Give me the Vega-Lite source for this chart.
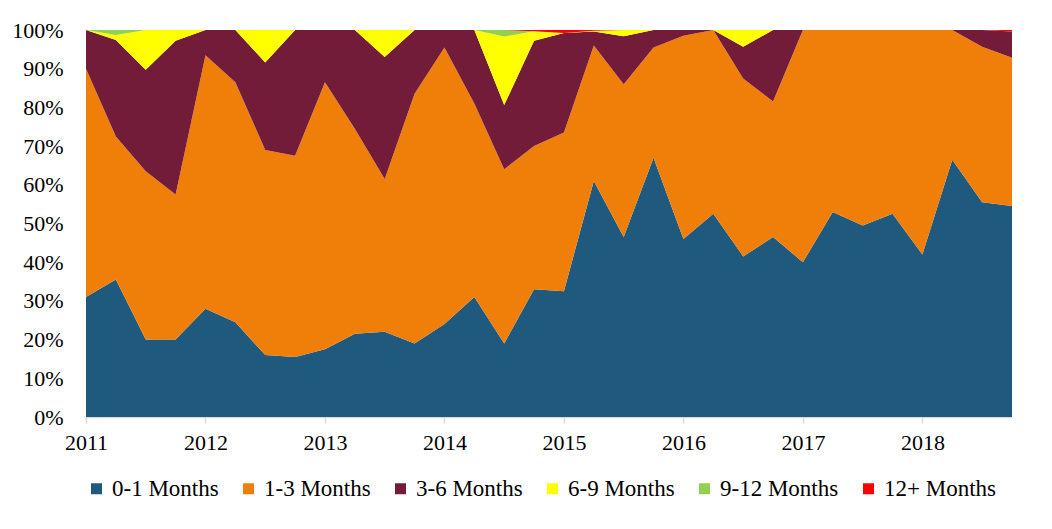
{
"$schema": "https://vega.github.io/schema/vega-lite/v6.json",
"width": 926, "height": 387,
"autosize": {"type": "none"},
"padding": {"left": 86, "top": 30, "right": 40, "bottom": 112},
"background": "white",
"config": {"view": {"stroke": null}, "font": "Liberation Serif"},
"data": {"values": [
{"t":2011,"s":"0-1 Months","k":0,"v":31},{"t":2011.25,"s":"0-1 Months","k":0,"v":35.5},{"t":2011.5,"s":"0-1 Months","k":0,"v":20},{"t":2011.75,"s":"0-1 Months","k":0,"v":20},
{"t":2012,"s":"0-1 Months","k":0,"v":28},{"t":2012.25,"s":"0-1 Months","k":0,"v":24.5},{"t":2012.5,"s":"0-1 Months","k":0,"v":16},{"t":2012.75,"s":"0-1 Months","k":0,"v":15.5},
{"t":2013,"s":"0-1 Months","k":0,"v":17.5},{"t":2013.25,"s":"0-1 Months","k":0,"v":21.5},{"t":2013.5,"s":"0-1 Months","k":0,"v":22},{"t":2013.75,"s":"0-1 Months","k":0,"v":19},
{"t":2014,"s":"0-1 Months","k":0,"v":24},{"t":2014.25,"s":"0-1 Months","k":0,"v":31},{"t":2014.5,"s":"0-1 Months","k":0,"v":19},{"t":2014.75,"s":"0-1 Months","k":0,"v":33},
{"t":2015,"s":"0-1 Months","k":0,"v":32.5},{"t":2015.25,"s":"0-1 Months","k":0,"v":61},{"t":2015.5,"s":"0-1 Months","k":0,"v":46.5},{"t":2015.75,"s":"0-1 Months","k":0,"v":67},
{"t":2016,"s":"0-1 Months","k":0,"v":46},{"t":2016.25,"s":"0-1 Months","k":0,"v":52.5},{"t":2016.5,"s":"0-1 Months","k":0,"v":41.5},{"t":2016.75,"s":"0-1 Months","k":0,"v":46.5},
{"t":2017,"s":"0-1 Months","k":0,"v":40},{"t":2017.25,"s":"0-1 Months","k":0,"v":53},{"t":2017.5,"s":"0-1 Months","k":0,"v":49.5},{"t":2017.75,"s":"0-1 Months","k":0,"v":52.5},
{"t":2018,"s":"0-1 Months","k":0,"v":42},{"t":2018.25,"s":"0-1 Months","k":0,"v":66.5},{"t":2018.5,"s":"0-1 Months","k":0,"v":55.5},{"t":2018.75,"s":"0-1 Months","k":0,"v":54.5},
{"t":2011,"s":"1-3 Months","k":1,"v":59},{"t":2011.25,"s":"1-3 Months","k":1,"v":37},{"t":2011.5,"s":"1-3 Months","k":1,"v":43.5},{"t":2011.75,"s":"1-3 Months","k":1,"v":37.5},
{"t":2012,"s":"1-3 Months","k":1,"v":65.5},{"t":2012.25,"s":"1-3 Months","k":1,"v":62},{"t":2012.5,"s":"1-3 Months","k":1,"v":53},{"t":2012.75,"s":"1-3 Months","k":1,"v":52},
{"t":2013,"s":"1-3 Months","k":1,"v":69},{"t":2013.25,"s":"1-3 Months","k":1,"v":53},{"t":2013.5,"s":"1-3 Months","k":1,"v":39.5},{"t":2013.75,"s":"1-3 Months","k":1,"v":64.5},
{"t":2014,"s":"1-3 Months","k":1,"v":71.5},{"t":2014.25,"s":"1-3 Months","k":1,"v":50},{"t":2014.5,"s":"1-3 Months","k":1,"v":45},{"t":2014.75,"s":"1-3 Months","k":1,"v":37},
{"t":2015,"s":"1-3 Months","k":1,"v":41},{"t":2015.25,"s":"1-3 Months","k":1,"v":35},{"t":2015.5,"s":"1-3 Months","k":1,"v":39.5},{"t":2015.75,"s":"1-3 Months","k":1,"v":28.5},
{"t":2016,"s":"1-3 Months","k":1,"v":52.5},{"t":2016.25,"s":"1-3 Months","k":1,"v":47.5},{"t":2016.5,"s":"1-3 Months","k":1,"v":46},{"t":2016.75,"s":"1-3 Months","k":1,"v":35},
{"t":2017,"s":"1-3 Months","k":1,"v":60},{"t":2017.25,"s":"1-3 Months","k":1,"v":47},{"t":2017.5,"s":"1-3 Months","k":1,"v":50.5},{"t":2017.75,"s":"1-3 Months","k":1,"v":47.5},
{"t":2018,"s":"1-3 Months","k":1,"v":58},{"t":2018.25,"s":"1-3 Months","k":1,"v":33.5},{"t":2018.5,"s":"1-3 Months","k":1,"v":40.2},{"t":2018.75,"s":"1-3 Months","k":1,"v":38.3},
{"t":2011,"s":"3-6 Months","k":2,"v":10},{"t":2011.25,"s":"3-6 Months","k":2,"v":24.9},{"t":2011.5,"s":"3-6 Months","k":2,"v":26.2},{"t":2011.75,"s":"3-6 Months","k":2,"v":39.7},
{"t":2012,"s":"3-6 Months","k":2,"v":6.5},{"t":2012.25,"s":"3-6 Months","k":2,"v":13.5},{"t":2012.5,"s":"3-6 Months","k":2,"v":22.6},{"t":2012.75,"s":"3-6 Months","k":2,"v":32.5},
{"t":2013,"s":"3-6 Months","k":2,"v":13.5},{"t":2013.25,"s":"3-6 Months","k":2,"v":25.5},{"t":2013.5,"s":"3-6 Months","k":2,"v":31.5},{"t":2013.75,"s":"3-6 Months","k":2,"v":16.5},
{"t":2014,"s":"3-6 Months","k":2,"v":4.5},{"t":2014.25,"s":"3-6 Months","k":2,"v":19},{"t":2014.5,"s":"3-6 Months","k":2,"v":16.6},{"t":2014.75,"s":"3-6 Months","k":2,"v":27.2},
{"t":2015,"s":"3-6 Months","k":2,"v":25.7},{"t":2015.25,"s":"3-6 Months","k":2,"v":3.6},{"t":2015.5,"s":"3-6 Months","k":2,"v":12.4},{"t":2015.75,"s":"3-6 Months","k":2,"v":4.5},
{"t":2016,"s":"3-6 Months","k":2,"v":1.5},{"t":2016.25,"s":"3-6 Months","k":2,"v":0},{"t":2016.5,"s":"3-6 Months","k":2,"v":8.2},{"t":2016.75,"s":"3-6 Months","k":2,"v":18.5},
{"t":2017,"s":"3-6 Months","k":2,"v":0},{"t":2017.25,"s":"3-6 Months","k":2,"v":0},{"t":2017.5,"s":"3-6 Months","k":2,"v":0},{"t":2017.75,"s":"3-6 Months","k":2,"v":0},
{"t":2018,"s":"3-6 Months","k":2,"v":0},{"t":2018.25,"s":"3-6 Months","k":2,"v":0},{"t":2018.5,"s":"3-6 Months","k":2,"v":4.3},{"t":2018.75,"s":"3-6 Months","k":2,"v":6.8},
{"t":2011,"s":"6-9 Months","k":3,"v":0},{"t":2011.25,"s":"6-9 Months","k":3,"v":1.3},{"t":2011.5,"s":"6-9 Months","k":3,"v":10.3},{"t":2011.75,"s":"6-9 Months","k":3,"v":2.8},
{"t":2012,"s":"6-9 Months","k":3,"v":0},{"t":2012.25,"s":"6-9 Months","k":3,"v":0},{"t":2012.5,"s":"6-9 Months","k":3,"v":8.4},{"t":2012.75,"s":"6-9 Months","k":3,"v":0},
{"t":2013,"s":"6-9 Months","k":3,"v":0},{"t":2013.25,"s":"6-9 Months","k":3,"v":0},{"t":2013.5,"s":"6-9 Months","k":3,"v":7},{"t":2013.75,"s":"6-9 Months","k":3,"v":0},
{"t":2014,"s":"6-9 Months","k":3,"v":0},{"t":2014.25,"s":"6-9 Months","k":3,"v":0},{"t":2014.5,"s":"6-9 Months","k":3,"v":17.7},{"t":2014.75,"s":"6-9 Months","k":3,"v":2.5},
{"t":2015,"s":"6-9 Months","k":3,"v":0},{"t":2015.25,"s":"6-9 Months","k":3,"v":0.2},{"t":2015.5,"s":"6-9 Months","k":3,"v":1.6},{"t":2015.75,"s":"6-9 Months","k":3,"v":0},
{"t":2016,"s":"6-9 Months","k":3,"v":0},{"t":2016.25,"s":"6-9 Months","k":3,"v":0},{"t":2016.5,"s":"6-9 Months","k":3,"v":4.3},{"t":2016.75,"s":"6-9 Months","k":3,"v":0},
{"t":2017,"s":"6-9 Months","k":3,"v":0},{"t":2017.25,"s":"6-9 Months","k":3,"v":0},{"t":2017.5,"s":"6-9 Months","k":3,"v":0},{"t":2017.75,"s":"6-9 Months","k":3,"v":0},
{"t":2018,"s":"6-9 Months","k":3,"v":0},{"t":2018.25,"s":"6-9 Months","k":3,"v":0},{"t":2018.5,"s":"6-9 Months","k":3,"v":0},{"t":2018.75,"s":"6-9 Months","k":3,"v":0},
{"t":2011,"s":"9-12 Months","k":4,"v":0},{"t":2011.25,"s":"9-12 Months","k":4,"v":1.3},{"t":2011.5,"s":"9-12 Months","k":4,"v":0},{"t":2011.75,"s":"9-12 Months","k":4,"v":0},
{"t":2012,"s":"9-12 Months","k":4,"v":0},{"t":2012.25,"s":"9-12 Months","k":4,"v":0},{"t":2012.5,"s":"9-12 Months","k":4,"v":0},{"t":2012.75,"s":"9-12 Months","k":4,"v":0},
{"t":2013,"s":"9-12 Months","k":4,"v":0},{"t":2013.25,"s":"9-12 Months","k":4,"v":0},{"t":2013.5,"s":"9-12 Months","k":4,"v":0},{"t":2013.75,"s":"9-12 Months","k":4,"v":0},
{"t":2014,"s":"9-12 Months","k":4,"v":0},{"t":2014.25,"s":"9-12 Months","k":4,"v":0},{"t":2014.5,"s":"9-12 Months","k":4,"v":1.7},{"t":2014.75,"s":"9-12 Months","k":4,"v":0},
{"t":2015,"s":"9-12 Months","k":4,"v":0},{"t":2015.25,"s":"9-12 Months","k":4,"v":0},{"t":2015.5,"s":"9-12 Months","k":4,"v":0},{"t":2015.75,"s":"9-12 Months","k":4,"v":0},
{"t":2016,"s":"9-12 Months","k":4,"v":0},{"t":2016.25,"s":"9-12 Months","k":4,"v":0},{"t":2016.5,"s":"9-12 Months","k":4,"v":0},{"t":2016.75,"s":"9-12 Months","k":4,"v":0},
{"t":2017,"s":"9-12 Months","k":4,"v":0},{"t":2017.25,"s":"9-12 Months","k":4,"v":0},{"t":2017.5,"s":"9-12 Months","k":4,"v":0},{"t":2017.75,"s":"9-12 Months","k":4,"v":0},
{"t":2018,"s":"9-12 Months","k":4,"v":0},{"t":2018.25,"s":"9-12 Months","k":4,"v":0},{"t":2018.5,"s":"9-12 Months","k":4,"v":0},{"t":2018.75,"s":"9-12 Months","k":4,"v":0},
{"t":2011,"s":"12+ Months","k":5,"v":0},{"t":2011.25,"s":"12+ Months","k":5,"v":0},{"t":2011.5,"s":"12+ Months","k":5,"v":0},{"t":2011.75,"s":"12+ Months","k":5,"v":0},
{"t":2012,"s":"12+ Months","k":5,"v":0},{"t":2012.25,"s":"12+ Months","k":5,"v":0},{"t":2012.5,"s":"12+ Months","k":5,"v":0},{"t":2012.75,"s":"12+ Months","k":5,"v":0},
{"t":2013,"s":"12+ Months","k":5,"v":0},{"t":2013.25,"s":"12+ Months","k":5,"v":0},{"t":2013.5,"s":"12+ Months","k":5,"v":0},{"t":2013.75,"s":"12+ Months","k":5,"v":0},
{"t":2014,"s":"12+ Months","k":5,"v":0},{"t":2014.25,"s":"12+ Months","k":5,"v":0},{"t":2014.5,"s":"12+ Months","k":5,"v":0},{"t":2014.75,"s":"12+ Months","k":5,"v":0.3},
{"t":2015,"s":"12+ Months","k":5,"v":0.8},{"t":2015.25,"s":"12+ Months","k":5,"v":0.2},{"t":2015.5,"s":"12+ Months","k":5,"v":0},{"t":2015.75,"s":"12+ Months","k":5,"v":0},
{"t":2016,"s":"12+ Months","k":5,"v":0},{"t":2016.25,"s":"12+ Months","k":5,"v":0},{"t":2016.5,"s":"12+ Months","k":5,"v":0},{"t":2016.75,"s":"12+ Months","k":5,"v":0},
{"t":2017,"s":"12+ Months","k":5,"v":0},{"t":2017.25,"s":"12+ Months","k":5,"v":0},{"t":2017.5,"s":"12+ Months","k":5,"v":0},{"t":2017.75,"s":"12+ Months","k":5,"v":0},
{"t":2018,"s":"12+ Months","k":5,"v":0},{"t":2018.25,"s":"12+ Months","k":5,"v":0},{"t":2018.5,"s":"12+ Months","k":5,"v":0},{"t":2018.75,"s":"12+ Months","k":5,"v":0.4}
]},
"mark": {"type": "area", "interpolate": "linear"},
"encoding": {
  "x": {"field": "t", "type": "quantitative",
    "scale": {"domain": [2011, 2018.75], "nice": false, "zero": false},
    "axis": {"title": null,
      "values": [2011,2011.25,2011.5,2011.75,2012,2012.25,2012.5,2012.75,2013,2013.25,2013.5,2013.75,2014,2014.25,2014.5,2014.75,2015,2015.25,2015.5,2015.75,2016,2016.25,2016.5,2016.75,2017,2017.25,2017.5,2017.75,2018,2018.25,2018.5,2018.75],
      "format": "d",
      "labelExpr": "datum.value % 1 === 0 ? datum.label : ''",
      "grid": false, "domainColor": "#D9D9D9", "domainWidth": 1.5,
      "tickColor": "#D9D9D9", "tickWidth": 1.5, "tickSize": 6,
      "labelFont": "Liberation Serif", "labelFontSize": 22, "labelColor": "#000000",
      "labelPadding": 9, "labelFlush": false, "labelOverlap": false}},
  "y": {"field": "v", "type": "quantitative", "stack": "normalize",
    "scale": {"domain": [0, 1], "nice": false},
    "axis": {"title": null, "format": ".0%",
      "values": [0,0.1,0.2,0.3,0.4,0.5,0.6,0.7,0.8,0.9,1],
      "grid": false, "domain": false, "ticks": false, "labelPadding": 23,
      "labelFont": "Liberation Serif", "labelFontSize": 22, "labelColor": "#000000"}},
  "color": {"field": "s", "type": "nominal",
    "scale": {"domain": ["0-1 Months","1-3 Months","3-6 Months","6-9 Months","9-12 Months","12+ Months"],
              "range": ["#1F5A7E","#F07F09","#731C39","#FFFF00","#92D050","#FF0000"]},
    "legend": {"title": null, "orient": "none", "direction": "horizontal", "legendX": -1, "legendY": 447,
      "symbolType": "square", "symbolSize": 121, "symbolStrokeWidth": 0, "symbolOpacity": 1,
      "labelFont": "Liberation Serif", "labelFontSize": 23, "labelColor": "#000000",
      "labelOffset": 4, "columnPadding": 18, "labelLimit": 300}},
  "order": {"field": "k", "type": "quantitative"}
}
}
